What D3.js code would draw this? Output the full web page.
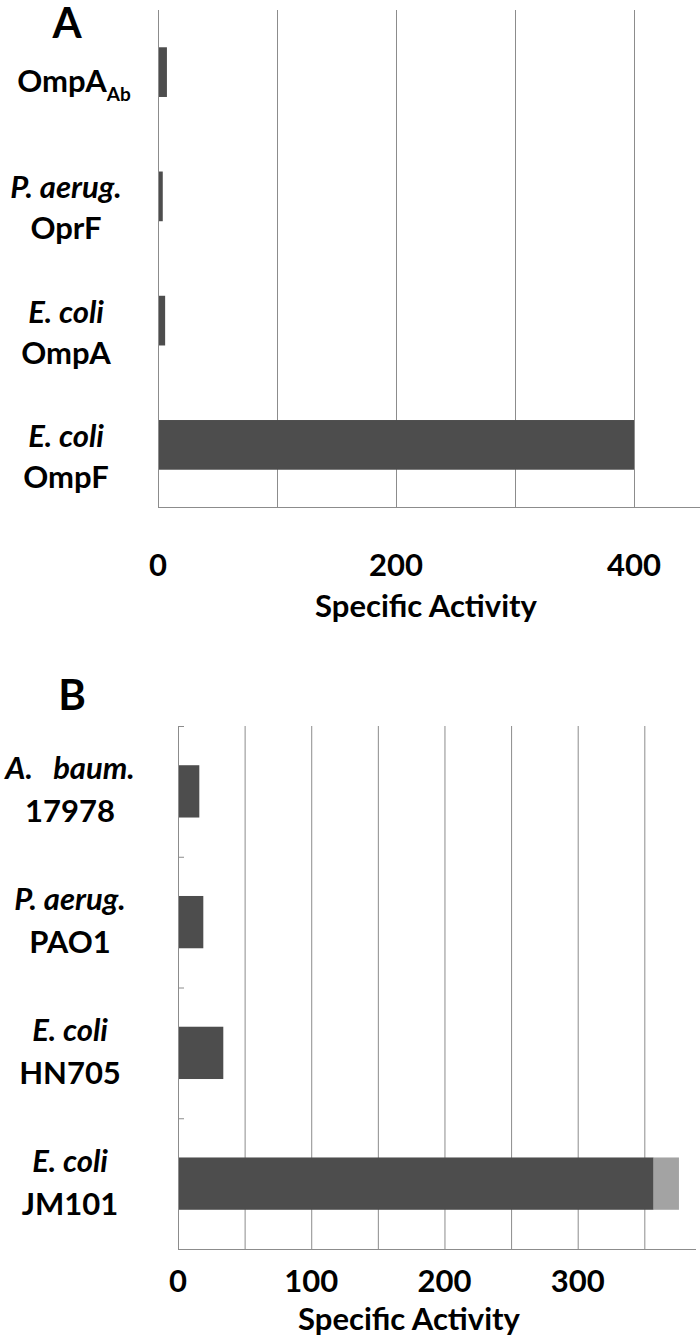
<!DOCTYPE html>
<html>
<head>
<meta charset="utf-8">
<script src="https://cdn.jsdelivr.net/npm/d3@7"></script>
<style>
body { margin: 0; background: #fff; }
svg text { font-family: Lato, "Open Sans", sans-serif; font-weight: bold; fill: #000; white-space: pre; }
</style>
</head>
<body>
<svg id="chart" width="700" height="1339"></svg>
<script>
// panel A data
var a_species = ['', 'P. aerug.', 'E. coli', 'E. coli'];
var a_proteins = ['OmpA', 'OprF', 'OmpA', 'OmpF'];
var a_subscripts = ['Ab', '', '', ''];
var a_values = [7.5, 4, 6, 400];
var a_gridlines = [100, 200, 300, 400];
var a_tick_labels = [0, 200, 400];

// panel B data
var b_species = ['A.   baum.', 'P. aerug.', 'E. coli', 'E. coli'];
var b_strains = ['17978', 'PAO1', 'HN705', 'JM101'];
var b_values = [16, 19, 34, 357];
var b_extra = [0, 0, 0, 19];
var b_gridlines = [50, 100, 150, 200, 250, 300, 350];
var b_tick_labels = [0, 100, 200, 300];

var axis_title = 'Specific Activity';
var dark = '#4d4d4d', light = '#a3a3a3', grid = '#8c8c8c';

var svg = d3.select('#chart');

function draw_panel(cfg) {
    var g = svg.append('g');
    var x = d3.scaleLinear().domain(cfg.domain).range([cfg.left, cfg.right]);
    var y = d3.scaleBand().domain(d3.range(cfg.values.length))
	.range([cfg.top, cfg.bottom]).paddingInner(0.6).paddingOuter(0.3);

    // gridlines
    g.selectAll('.grid').data(cfg.gridlines).enter().append('line')
	.attr('x1', function(d) { return x(d) + 0.5; })
	.attr('x2', function(d) { return x(d) + 0.5; })
	.attr('y1', cfg.top).attr('y2', cfg.bottom)
	.attr('stroke', grid).attr('stroke-width', 1);

    // bars
    g.selectAll('.bar').data(cfg.values).enter().append('rect')
	.attr('x', x(0))
	.attr('y', function(d, i) { return y(i); })
	.attr('width', function(d) { return x(d) - x(0); })
	.attr('height', y.bandwidth())
	.attr('fill', dark);

    if (cfg.extra) {
	g.selectAll('.extra').data(cfg.extra).enter().append('rect')
	    .attr('x', function(d, i) { return x(cfg.values[i]); })
	    .attr('y', function(d, i) { return y(i); })
	    .attr('width', function(d, i) { return x(cfg.values[i] + d) - x(cfg.values[i]); })
	    .attr('height', y.bandwidth())
	    .attr('fill', light);
    }

    // axis lines
    g.append('line').attr('x1', x(0) + 0.5).attr('x2', x(0) + 0.5)
	.attr('y1', cfg.top).attr('y2', cfg.bottom + 0.5)
	.attr('stroke', grid);
    g.append('line').attr('x1', x(0)).attr('x2', cfg.axis_end)
	.attr('y1', cfg.bottom + 0.5).attr('y2', cfg.bottom + 0.5)
	.attr('stroke', grid);

    // category boundary ticks (panel B only)
    if (cfg.cat_ticks) {
	var step = y.step();
	g.selectAll('.ctick').data(d3.range(cfg.values.length)).enter().append('line')
	    .attr('x1', x(0)).attr('x2', x(0) + 6)
	    .attr('y1', function(d) { return cfg.top + d * step + 0.5; })
	    .attr('y2', function(d) { return cfg.top + d * step + 0.5; })
	    .attr('stroke', grid);
    }

    // tick labels
    g.selectAll('.tlabel').data(cfg.tick_labels).enter().append('text')
	.attr('x', function(d) { return x(d); })
	.attr('y', cfg.tick_y)
	.attr('text-anchor', 'middle')
	.style('font-size', '31px')
	.text(function(d) { return d; });

    g.append('text').attr('x', cfg.title_x).attr('y', cfg.title_y)
	.attr('text-anchor', 'middle').style('font-size', '31px')
	.text(axis_title);

    // category labels
    draw_labels(g, y, cfg);

    g.append('text').attr('x', cfg.letter_x).attr('y', cfg.letter_y)
	.attr('text-anchor', 'middle').style('font-size', '42px')
	.text(cfg.letter);
}

function draw_labels(g, y, cfg) {
    cfg.species.forEach(function(sp, i) {
	var c = y(i) + y.bandwidth() / 2;
	if (sp === '') {
	    var t = g.append('text').attr('x', cfg.single_x).attr('y', c + 20)
		.attr('text-anchor', 'middle').style('font-size', '31px');
	    t.append('tspan').text(cfg.names[i]);
	    if (cfg.subs && cfg.subs[i])
		t.append('tspan').attr('dy', 9).style('font-size', '19px').text(cfg.subs[i]);
	    return;
	}
	g.append('text').attr('x', cfg.label_x).attr('y', c + cfg.line1)
	    .attr('text-anchor', 'middle').style('font-size', '31px')
	    .style('font-style', 'italic').text(sp);
	g.append('text').attr('x', cfg.label_x).attr('y', c + cfg.line2)
	    .attr('text-anchor', 'middle').style('font-size', '31px')
	    .text(cfg.names[i]);
    });
}

draw_panel({
    letter: 'A', letter_x: 67, letter_y: 38,
    domain: [0, 400], left: 158, right: 634, axis_end: 700,
    top: 10, bottom: 507,
    values: a_values, gridlines: a_gridlines, tick_labels: a_tick_labels,
    species: a_species, names: a_proteins, subs: a_subscripts,
    label_x: 66, single_x: 74, line1: 2, line2: 43,
    tick_y: 576, title_x: 426, title_y: 617
});

draw_panel({
    letter: 'B', letter_x: 72, letter_y: 710,
    domain: [0, 300], left: 178, right: 577.7, axis_end: 696,
    top: 726, bottom: 1249,
    values: b_values, extra: b_extra, gridlines: b_gridlines, tick_labels: b_tick_labels,
    species: b_species, names: b_strains, cat_ticks: true,
    label_x: 70, line1: -12, line2: 31,
    tick_y: 1292, title_x: 409, title_y: 1330
});
</script>
</body>
</html>
